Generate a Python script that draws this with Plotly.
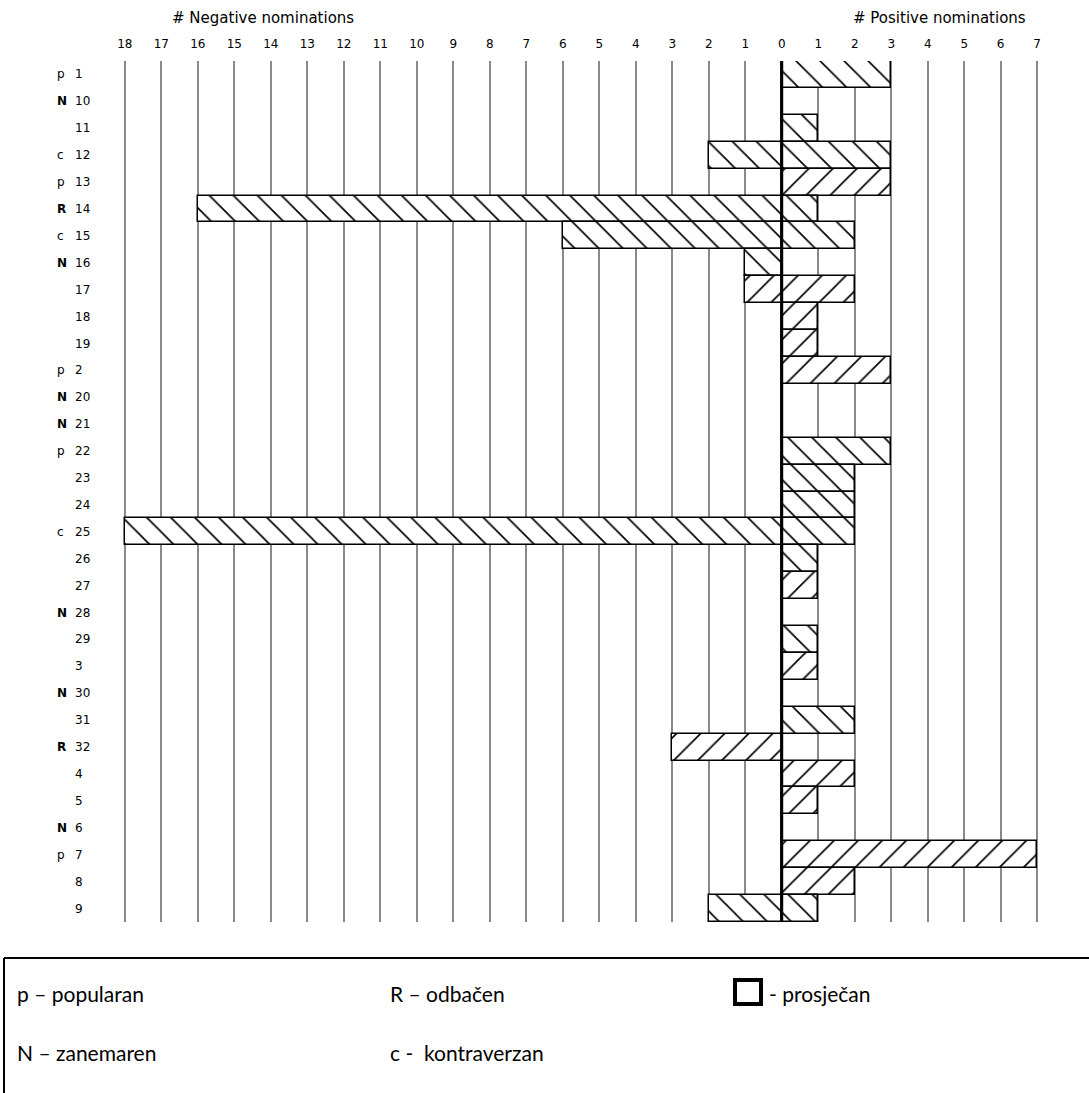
import plotly.graph_objects as go

# ---- data ----
students = ["1", "10", "11", "12", "13", "14", "15", "16", "17", "18", "19", "2", "20", "21", "22",
            "23", "24", "25", "26", "27", "28", "29", "3", "30", "31", "32", "4", "5", "6", "7", "8", "9"]
status = ["p", "N", "", "c", "p", "R", "c", "N", "", "", "", "p", "N", "N", "p",
          "", "", "c", "", "", "N", "", "", "N", "", "R", "", "", "N", "p", "", ""]
negative = [0, 0, 0, 2, 0, 16, 6, 1, 1, 0, 0, 0, 0, 0, 0,
            0, 0, 18, 0, 0, 0, 0, 0, 0, 0, 3, 0, 0, 0, 0, 0, 2]
positive = [3, 0, 1, 3, 3, 1, 2, 0, 2, 1, 1, 3, 0, 0, 3,
            2, 2, 2, 1, 1, 0, 1, 1, 0, 2, 0, 2, 1, 0, 7, 2, 1]
# hatch group: "b" = backslash hatch, "f" = forward-slash hatch
hatch = ["b", "b", "b", "b", "f", "b", "b", "b", "f", "f", "f", "f", "", "", "b",
         "b", "b", "b", "b", "f", "", "b", "f", "", "b", "f", "f", "f", "", "f", "f", "b"]
neg_ticks = list(range(-18, 8))
tick_text = [str(abs(v)) for v in neg_ticks]

legend_items = [("p – popularan", 15, 993), ("N – zanemaren", 15, 1052),
                ("R – odbačen", 388, 993), ("c -  kontraverzan", 388, 1052),
                ("- prosječan", 767, 993)]

# ---- layout geometry ----
W, H = 1089, 1093
L, R, T, B = 123, 50, 61, 171
PW, PH = W - L - R, H - T - B


def px_x(px):
    return (px - L) / PW


def px_y(py):
    return (H - B - py) / PH


shape_map = {"b": "\\", "f": "/", "": ""}
shapes_arr = [shape_map[h] for h in hatch]

pattern = dict(shape=shapes_arr, fgcolor="black", bgcolor="white", size=17,
               solidity=0.1, fgopacity=1)

idx = list(range(len(students)))

fig = go.Figure()
fig.add_trace(go.Bar(y=idx, x=[-v for v in negative], orientation="h",
                     marker=dict(color="white", line=dict(color="black", width=1.5), pattern=pattern),
                     showlegend=False, hoverinfo="skip"))
fig.add_trace(go.Bar(y=idx, x=positive, orientation="h",
                     marker=dict(color="white", line=dict(color="black", width=1.5), pattern=pattern),
                     showlegend=False, hoverinfo="skip"))

annotations = []
for i, (s, st) in enumerate(zip(students, status)):
    annotations.append(dict(x=px_x(73), y=i, xref="paper", yref="y", text=s, showarrow=False,
                            xanchor="left", yanchor="middle",
                            font=dict(family="DejaVu Sans", size=12, color="black")))
    if st:
        txt = f"<b>{st}</b>" if st in ("N", "R") else st
        annotations.append(dict(x=px_x(55), y=i, xref="paper", yref="y", text=txt, showarrow=False,
                                xanchor="left", yanchor="middle",
                                font=dict(family="DejaVu Sans", size=12, color="black")))

annotations.append(dict(x=px_x(263), y=px_y(18), xref="paper", yref="paper", text="# Negative nominations",
                        showarrow=False, xanchor="center", yanchor="middle",
                        font=dict(family="DejaVu Sans", size=15, color="black")))
annotations.append(dict(x=px_x(939), y=px_y(18), xref="paper", yref="paper", text="# Positive nominations",
                        showarrow=False, xanchor="center", yanchor="middle",
                        font=dict(family="DejaVu Sans", size=15, color="black")))

for text, x0, y0 in legend_items:
    annotations.append(dict(x=px_x(x0), y=px_y(y0), xref="paper", yref="paper", text=text,
                            showarrow=False, xanchor="left", yanchor="middle",
                            font=dict(family="Lato", size=21, color="black")))

shapes = [
    dict(type="line", xref="x", yref="paper", x0=0, x1=0, y0=0, y1=1,
         line=dict(color="black", width=3), layer="above"),
    dict(type="line", xref="paper", yref="paper", x0=px_x(4), x1=px_x(1095), y0=px_y(958), y1=px_y(958),
         line=dict(color="black", width=2)),
    dict(type="line", xref="paper", yref="paper", x0=px_x(4), x1=px_x(4), y0=px_y(958), y1=px_y(1100),
         line=dict(color="black", width=2)),
    dict(type="rect", xref="paper", yref="paper", x0=px_x(735), x1=px_x(761), y0=px_y(980), y1=px_y(1004),
         line=dict(color="black", width=4)),
]

fig.update_layout(
    width=W, height=H,
    margin=dict(l=L, r=R, t=T, b=B, pad=0),
    paper_bgcolor="white", plot_bgcolor="white",
    barmode="relative", bargap=0,
    annotations=annotations, shapes=shapes,
    xaxis=dict(range=[-18.05, 7.05], side="top", tickvals=neg_ticks, ticktext=tick_text,
               showgrid=True, gridcolor="#8a8a8a", gridwidth=1.5, zeroline=False,
               showline=False, ticks="", ticklabelstandoff=10,
               tickfont=dict(family="DejaVu Sans", size=12, color="black")),
    yaxis=dict(type="linear", range=[len(students) - 0.5, -0.5],
               showticklabels=False, showgrid=False, zeroline=False, showline=False, ticks=""),
)

fig.write_html("out.html", config={"displayModeBar": False},
               post_script="document.body.style.margin='0';")
